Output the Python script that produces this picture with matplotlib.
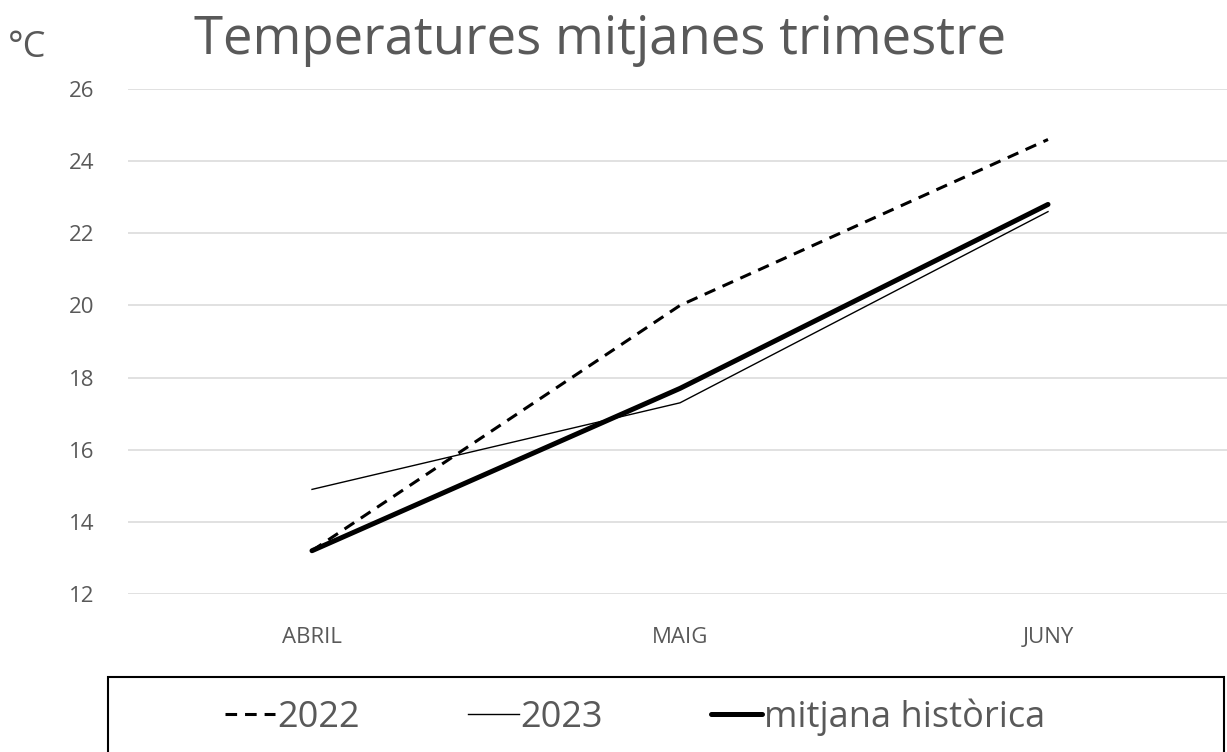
import numpy as np
import matplotlib
matplotlib.use("Agg")
import matplotlib.pyplot as plt
from matplotlib.patches import Rectangle

plt.rcParams['font.family'] = ['Open Sans', 'DejaVu Sans']

months = ['ABRIL', 'MAIG', 'JUNY']
temp_2022 = [13.2, 20.0, 24.6]
temp_2023 = [14.9, 17.3, 22.6]
temp_hist = [13.2, 17.7, 22.8]
y_ticks = [12, 14, 16, 18, 20, 22, 24, 26]

GRAY = '#595959'


def main():
    fig = plt.figure(figsize=(12.27, 7.52), dpi=100)
    W, H = 1227, 752
    ax = fig.add_axes([128 / W, (H - 594) / H, 1 - 128 / W, (594 - 89) / H])

    x = np.arange(len(months))
    ax.plot(x, temp_2022, color='black', lw=2.2, dashes=(3.8, 2.6), label='2022')
    ax.plot(x, temp_2023, color='black', lw=1.0, label='2023')
    ax.plot(x, temp_hist, color='black', lw=3.6, solid_capstyle='round',
            label='mitjana històrica')

    ax.set_xlim(-0.5, (W - 128) / 368 - 0.5)
    ax.set_ylim(12, 26)
    ax.set_yticks(y_ticks)
    ax.set_xticks(x)
    ax.set_xticklabels(months)
    ax.tick_params(axis='y', length=0, pad=24, labelsize=16, labelcolor=GRAY)
    ax.tick_params(axis='x', length=0, pad=24, labelsize=16, labelcolor=GRAY)
    ax.grid(axis='y', color='#d9d9d9', lw=1.1)
    ax.set_axisbelow(True)
    for s in ax.spines.values():
        s.set_visible(False)

    fig.text(600 / W, 1 - 40 / H, 'Temperatures mitjanes trimestre', ha='center',
             va='center', fontsize=38, color=GRAY)
    fig.text(8 / W, 1 - 48 / H, '°C', ha='left', va='center', fontsize=26,
             color=GRAY)

    # legend box
    fig.patches.append(Rectangle((108 / W, -0.01), (1224 - 108) / W, (H - 677) / H + 0.01,
                                 transform=fig.transFigure, fill=False,
                                 edgecolor='black', lw=1.5))
    handles, labels = ax.get_legend_handles_labels()
    leg = fig.legend(handles, labels, loc='center', bbox_to_anchor=(635 / W, 1 - 717 / H),
                     ncol=3, frameon=False, fontsize=26, handlelength=1.4,
                     handletextpad=0.05, columnspacing=3.0)
    for t in leg.get_texts():
        t.set_color(GRAY)

    fig.savefig('out.png', dpi=100)


if __name__ == '__main__':
    main()
